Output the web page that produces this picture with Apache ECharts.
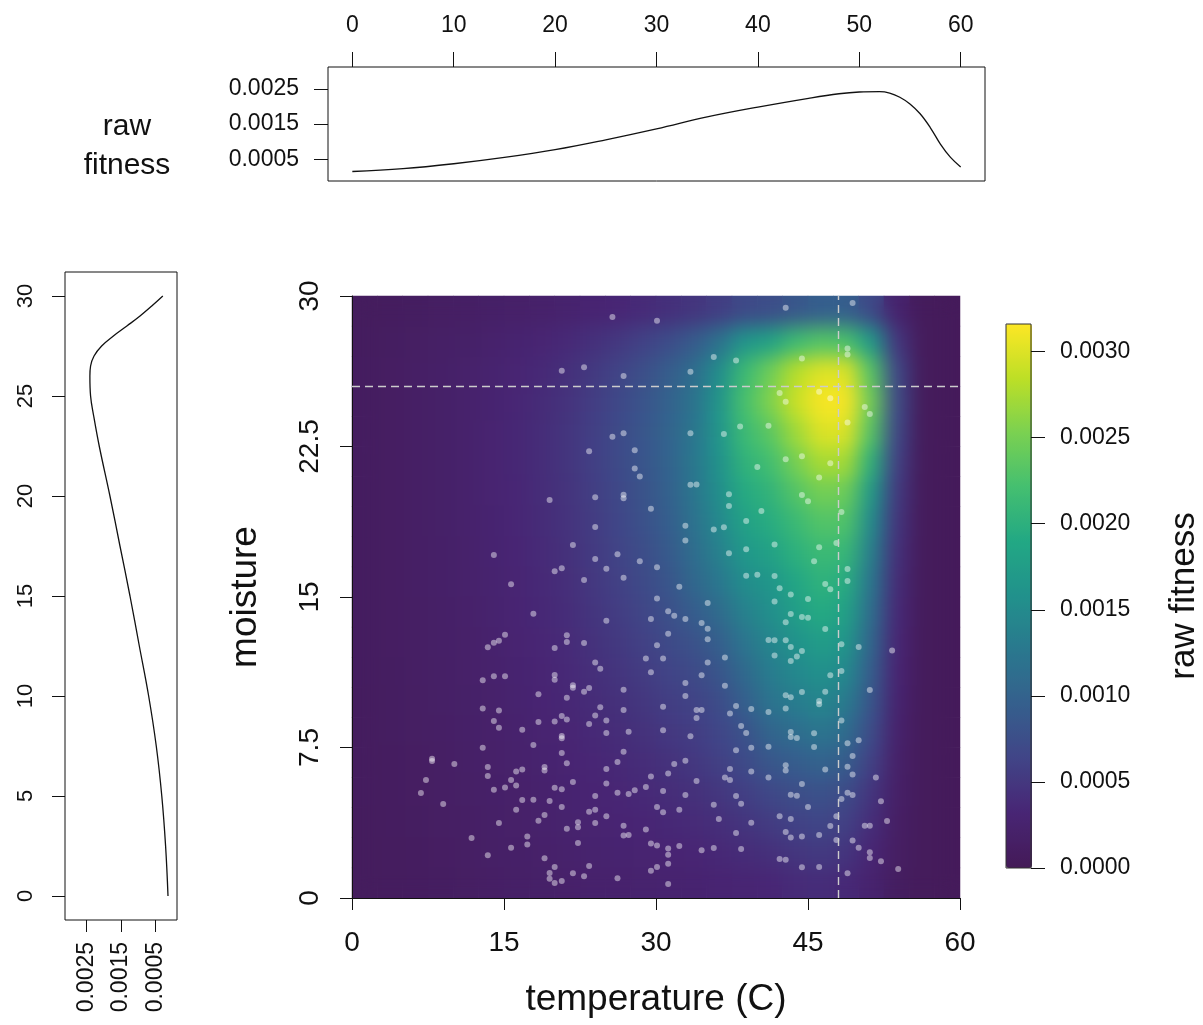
<!DOCTYPE html>
<html>
<head>
<meta charset="utf-8">
<title>raw fitness surface</title>
<script src="https://cdn.jsdelivr.net/npm/echarts@6/dist/echarts.min.js"></script>
<style>
  html, body { margin: 0; padding: 0; background: #fff; }
  #stage { position: relative; width: 1203px; height: 1025px; overflow: hidden; }
  .layer { position: absolute; left: 0; top: 0; width: 1203px; height: 1025px; }
  #smoothWrap { position: absolute; left: 352px; top: 296px; width: 608px; height: 602px; overflow: hidden; }
  #smooth { width: 608px; height: 602px; filter: blur(10px); }
</style>
</head>
<body>
<div id="stage">
  <div id="base" class="layer"></div>
  <div id="smoothWrap"><div id="smooth"></div></div>
  <div id="front" class="layer"></div>
</div>
<script>
// cell centres of the fitness surface
const tempCells = [1.25, 3.75, 6.25, 8.75, 11.25, 13.75, 16.25, 18.75, 21.25, 23.75, 26.25, 28.75,
  31.25, 33.75, 36.25, 38.75, 41.25, 43.75, 46.25, 48.75, 51.25, 53.75, 56.25, 58.75];
const moistCells = [0.75, 2.25, 3.75, 5.25, 6.75, 8.25, 9.75, 11.25, 12.75, 14.25,
  15.75, 17.25, 18.75, 20.25, 21.75, 23.25, 24.75, 26.25, 27.75, 29.25];

// raw fitness x 1e-4, one row per moisture cell (bottom to top), one column per temp cell
const fitnessRows = [
  [0.8,0.9,1.0,1.1,1.3,1.5,1.7,1.9,2.1,2.3,2.4,2.5,2.6,2.7,2.9,3.1,3.3,3.8,4.0,3.6,2.5,1.1,0.5,0.4],
  [0.8,0.9,1.0,1.2,1.4,1.6,1.8,2.1,2.3,2.5,2.7,2.8,3.0,3.2,3.5,3.9,4.3,4.9,5.3,4.8,3.2,1.3,0.5,0.4],
  [0.8,1.0,1.1,1.3,1.5,1.7,2.0,2.3,2.5,2.8,3.0,3.2,3.5,3.8,4.2,4.8,5.5,6.1,6.5,6.0,4.0,1.5,0.5,0.4],
  [0.9,1.0,1.2,1.4,1.6,1.8,2.1,2.4,2.7,3.0,3.3,3.6,4.0,4.4,5.0,5.8,6.8,7.5,8.0,7.3,4.8,1.8,0.5,0.4],
  [0.9,1.0,1.2,1.4,1.7,2.0,2.3,2.6,2.9,3.3,3.6,4.0,4.5,5.1,5.9,7.0,8.5,9.3,10.0,9.2,6.0,2.1,0.5,0.4],
  [0.9,1.1,1.3,1.5,1.8,2.1,2.4,2.8,3.1,3.6,4.0,4.5,5.1,5.6,6.6,8.0,10.2,11.3,12.3,11.3,7.2,2.4,0.5,0.4],
  [0.9,1.1,1.3,1.6,1.9,2.2,2.6,3.0,3.4,3.9,4.4,5.0,5.7,6.2,7.3,9.5,12.0,13.2,14.3,13.0,8.3,2.7,0.5,0.4],
  [1.0,1.1,1.4,1.6,2.0,2.3,2.7,3.1,3.6,4.2,4.8,5.5,6.3,7.0,8.3,10.8,13.2,14.6,15.8,14.8,9.3,3.0,0.5,0.4],
  [1.0,1.2,1.4,1.7,2.0,2.4,2.8,3.3,3.8,4.5,5.2,6.0,7.0,8.0,9.5,12.2,14.3,16.0,17.5,16.5,10.3,3.3,0.5,0.4],
  [1.0,1.2,1.4,1.7,2.1,2.5,3.0,3.5,4.0,4.8,5.6,6.5,7.7,9.3,11.0,13.8,15.5,17.5,19.2,18.0,11.3,3.6,0.5,0.4],
  [1.0,1.2,1.5,1.8,2.2,2.6,3.1,3.6,4.2,5.1,6.0,7.0,8.3,10.5,12.5,15.3,16.5,18.6,20.3,19.5,12.3,3.9,0.5,0.4],
  [1.0,1.2,1.5,1.8,2.2,2.7,3.2,3.8,4.4,5.3,6.3,7.4,8.9,11.3,13.8,16.7,18.0,20.0,21.5,21.0,13.5,4.3,0.5,0.4],
  [1.0,1.2,1.5,1.9,2.3,2.7,3.3,3.9,4.6,5.5,6.6,7.8,9.4,11.9,14.8,18.0,19.5,21.3,23.0,22.8,15.0,4.8,0.5,0.4],
  [1.0,1.2,1.5,1.9,2.3,2.8,3.3,4.0,4.7,5.7,6.8,8.1,9.7,12.3,15.5,19.3,20.5,23.0,25.0,24.5,17.0,5.3,0.5,0.4],
  [1.0,1.2,1.5,1.9,2.3,2.8,3.4,4.0,4.8,5.8,7.0,8.3,10.0,12.5,16.0,20.4,22.0,25.0,27.5,27.3,20.0,6.0,0.5,0.4],
  [1.0,1.2,1.5,1.9,2.3,2.8,3.4,4.0,4.8,5.8,7.0,8.4,10.1,12.4,16.3,21.4,23.5,27.0,30.0,30.0,23.0,6.8,0.5,0.4],
  [1.0,1.2,1.5,1.9,2.3,2.7,3.3,3.9,4.6,5.6,6.8,8.2,9.9,12.0,16.3,22.3,25.5,29.0,31.3,31.3,24.5,7.2,0.5,0.4],
  [1.0,1.2,1.5,1.8,2.2,2.6,3.1,3.6,4.3,5.2,6.3,7.6,9.2,11.3,15.3,21.3,24.5,28.0,30.0,30.0,23.0,6.8,0.5,0.4],
  [0.9,1.1,1.3,1.6,1.9,2.3,2.7,3.1,3.6,4.3,5.1,6.1,7.3,9.0,11.8,16.3,18.0,21.5,23.0,22.5,17.0,5.0,0.5,0.4],
  [0.8,0.9,1.1,1.3,1.5,1.7,2.0,2.2,2.5,2.9,3.3,3.8,4.3,4.9,5.7,7.0,7.5,8.5,9.5,9.5,7.0,2.5,0.5,0.4]
];

// observed individuals [temperature, moisture]
const samples = [
  [17.9,14.17],[15.1,13.12],[14.5,12.82],[14.0,12.72],[13.4,12.49],[20.0,12.46],[12.9,10.85],[14.0,11.05],[15.1,11.05],[20.0,11.11],
  [20.0,10.88],[18.4,10.15],[12.9,9.44],[14.5,9.35],[14.0,8.82],[14.5,8.49],[16.8,8.39],[18.4,8.77],[20.0,8.80],[17.9,7.62],
  [12.9,7.49],[7.9,6.94],[7.9,6.83],[10.1,6.68],[7.3,5.88],[6.8,5.23],[9.0,4.68],[13.4,6.53],[13.4,6.08],[14.0,5.40],
  [15.1,5.51],[15.7,5.88],[16.2,6.30],[16.8,6.40],[16.2,5.61],[19.0,6.53],[19.0,6.35],[20.0,5.50],[16.8,4.88],[17.9,4.90],
  [19.5,4.83],[16.2,4.40],[19.0,4.14],[18.4,3.85],[14.5,3.74],[11.8,2.99],[17.3,3.07],[17.3,2.67],[15.7,2.51],[13.4,2.13],
  [19.0,1.98],[20.0,1.54],[19.5,1.25],[19.5,0.96],[20.0,0.75],
  [30.1,14.92],[35.1,14.70],[31.2,14.29],[31.8,14.07],[32.9,13.90],[29.5,13.90],[25.1,13.82],[34.5,13.70],[35.1,13.42],[31.2,13.17],
  [35.1,12.89],[21.2,13.09],[21.2,12.76],[22.9,12.71],[30.1,12.59],[29.0,11.93],[30.7,11.93],[36.8,11.98],[35.1,11.74],[24.0,11.73],
  [24.5,11.43],[29.5,11.25],[34.5,11.10],[32.9,10.71],[36.8,10.58],[21.8,10.60],[21.8,10.48],[23.4,10.47],[22.9,10.28],[26.8,10.38],
  [32.9,10.07],[21.2,9.98],[30.7,9.53],[24.5,9.50],[37.9,9.57],[39.4,9.42],[34.0,9.37],[34.5,9.37],[26.8,9.37],[37.3,9.20],
  [24.0,9.10],[20.7,9.07],[21.2,8.89],[25.1,8.85],[34.0,8.97],[23.4,8.67],[38.4,8.57],[38.9,8.22],[25.1,8.22],[27.3,8.29],
  [30.7,8.36],[33.4,8.06],[20.7,8.07],[20.7,7.96],[39.4,7.49],[37.9,7.36],[26.8,7.29],[20.7,7.23],[26.2,6.78],[21.2,6.71],
  [32.9,6.84],[31.8,6.68],[25.1,6.43],[37.3,6.43],[39.4,6.31],[31.2,6.21],[29.5,6.06],[36.8,6.01],[37.3,5.88],[34.0,5.83],
  [21.8,5.78],[25.1,5.70],[29.0,5.53],[27.9,5.37],[27.3,5.18],[26.2,5.25],[30.7,5.33],[32.9,5.13],[37.9,5.08],[24.0,5.08],
  [20.7,5.42],[35.7,4.65],[38.4,4.70],[30.1,4.53],[20.7,4.53],[32.3,4.40],[30.7,4.27],[23.4,4.30],[24.0,4.40],[25.1,4.07],
  [36.2,3.94],[22.3,3.77],[22.3,3.52],[21.2,3.45],[24.0,3.74],[39.4,3.75],[26.8,3.60],[29.0,3.41],[37.9,3.24],[26.8,3.11],
  [27.3,3.14],[22.3,2.74],[29.5,2.71],[30.1,2.62],[31.2,2.47],[31.2,2.16],[32.3,2.59],[34.5,2.38],[35.7,2.49],[38.4,2.44],
  [23.4,1.59],[21.8,1.23],[22.9,1.08],[20.7,0.85],[26.2,0.98],[29.5,1.36],[30.1,1.54],[31.2,1.71],[31.2,0.70],
  [41.7,14.77],[45.0,14.90],[43.3,14.15],[44.4,14.00],[45.0,13.97],[42.8,13.74],[46.7,13.41],[41.1,12.86],[41.7,12.84],[42.8,12.84],
  [48.3,12.64],[50.0,12.51],[53.3,12.34],[43.3,12.51],[44.4,12.31],[43.9,12.04],[41.7,12.08],[43.3,11.81],[48.3,11.31],[47.2,11.10],
  [51.1,10.37],[42.8,10.10],[43.3,10.00],[44.4,10.27],[46.7,10.28],[46.1,9.82],[46.1,9.65],[41.1,9.27],[42.8,9.44],[48.3,8.85],
  [43.3,8.27],[43.3,8.02],[43.9,7.97],[45.6,8.21],[48.9,7.71],[50.0,7.86],[41.1,7.54],[45.6,7.52],[49.4,7.08],[42.8,6.61],
  [42.8,6.36],[46.7,6.40],[48.9,6.54],[49.4,6.15],[51.7,6.01],[41.1,6.00],[44.4,5.68],[43.3,5.15],[43.9,5.10],[48.9,5.25],
  [49.4,5.13],[48.3,4.93],[52.2,4.82],[45.0,4.53],[42.2,4.07],[43.3,3.94],[47.8,4.07],[47.2,3.59],[50.6,3.60],[51.1,3.60],
  [52.8,3.84],[42.8,3.29],[43.3,3.01],[44.4,3.07],[46.1,3.14],[47.8,2.89],[49.4,2.87],[50.0,2.51],[51.1,2.28],[51.1,1.99],
  [52.2,1.83],[42.2,1.94],[42.8,1.91],[44.4,1.53],[46.1,1.54],[48.9,1.23],[53.9,1.44],
  [19.5,19.83],[14.0,17.09],[20.0,16.28],[15.7,15.63],
  [25.7,28.95],[30.1,28.77],[35.7,26.96],[37.9,26.78],[20.7,26.28],[22.9,26.45],[26.8,26.01],[33.4,26.23],[25.7,22.99],[26.8,23.16],
  [33.4,23.16],[36.7,23.12],[38.3,23.50],[23.4,22.26],[27.9,22.31],[27.9,21.40],[28.4,21.01],[33.4,20.60],[34.0,20.61],[40.0,21.48],
  [37.2,20.12],[37.2,19.53],[24.0,19.97],[26.8,20.10],[26.8,19.92],[29.5,19.40],[40.4,19.29],[24.0,18.49],[32.9,18.55],[32.9,17.82],
  [35.7,18.37],[36.7,18.47],[38.9,18.79],[21.8,17.59],[26.2,17.13],[24.0,16.89],[28.4,16.78],[37.2,17.18],[38.9,17.38],[20.7,16.43],
  [25.1,16.41],[30.1,16.48],[22.9,15.85],[26.8,15.96],[38.9,16.06],[40.0,16.11],[32.3,15.51],
  [42.8,29.42],[49.4,29.65],[48.9,27.38],[48.9,27.09],[44.4,26.88],[42.2,25.17],[42.8,24.73],[46.1,25.23],[47.2,24.90],[50.6,24.47],
  [51.1,24.12],[48.9,23.70],[41.1,23.54],[42.8,21.86],[44.4,22.01],[47.2,21.66],[46.1,20.96],[44.4,20.08],[45.0,19.77],[48.3,19.24],
  [41.7,17.62],[46.1,17.48],[47.8,17.69],[45.6,16.78],[48.9,16.40],[48.9,15.80],[41.7,16.05],[42.2,15.43],[43.3,15.13],[46.7,15.65],
  [47.2,15.38]
];

// optimum shown by the dashed guides
const optimumTemp = 48;
const optimumMoist = 25.5;

// marginal raw fitness curves
const topTemp = [0, 5, 10, 15, 20, 25, 30, 35, 40, 45, 48, 50, 52, 53, 54, 55, 56, 57, 58, 59, 60];
const topFitness = [0.00015, 0.00023, 0.00037, 0.00055, 0.00077, 0.00105, 0.00136, 0.0017, 0.00198, 0.00223,
  0.00236, 0.00241, 0.00242, 0.00238, 0.00226, 0.00207, 0.00179, 0.0014, 0.00093, 0.00055, 0.00028];
const leftMoist = [0, 2.5, 5, 7.5, 10, 12.5, 15, 17.5, 20, 22.5, 24, 25, 26, 26.5, 27, 27.5, 28, 28.5, 29, 29.5, 30];
const leftFitness = [0.00014, 0.00021, 0.00032, 0.00048, 0.0007, 0.00097, 0.00124, 0.00153, 0.00182, 0.00213,
  0.00229, 0.00238, 0.0024, 0.00238, 0.00228, 0.00206, 0.00172, 0.00133, 0.00095, 0.00061, 0.00029];

// tick labels
const topTempTicks = [0, 10, 20, 30, 40, 50, 60];
const marginFitTicks = [0.0005, 0.0015, 0.0025];
const leftMoistTicks = [0, 5, 10, 15, 20, 25, 30];
const barTicks = [0, 0.0005, 0.001, 0.0015, 0.002, 0.0025, 0.003];
const barMax = 0.00316;

// viridis, with the darkest stop matched to the picture
const viridis = ['#441a57', '#482574', '#414487', '#355f8d', '#2a788e', '#21918c',
  '#22a884', '#44bf70', '#7ad151', '#bddf26', '#fde725'];
const ink = '#111';
const font = '"Liberation Sans", Arial, Helvetica, sans-serif';

const cells = [];
fitnessRows.forEach((row, j) => row.forEach((v, i) => cells.push([i, j, v])));

function heatmapOption(grid, showBar) {
  return {
    animation: false,
    grid: grid,
    xAxis: { type: 'category', data: tempCells, show: false },
    yAxis: { type: 'category', data: moistCells, show: false },
    visualMap: {
      type: 'continuous', show: showBar, min: 0, max: barMax * 1e4, calculable: false,
      orient: 'vertical', left: 1006, top: 324, itemWidth: 26, itemHeight: 544, padding: 0,
      hoverLink: false, seriesIndex: 0, inRange: { color: viridis }
    },
    series: [{ type: 'heatmap', data: cells, silent: true, progressive: 0, itemStyle: { borderWidth: 0 } }]
  };
}

echarts.init(document.getElementById('base'))
  .setOption(heatmapOption({ left: 352, top: 296, width: 608, height: 602 }, true));
echarts.init(document.getElementById('smooth'))
  .setOption(heatmapOption({ left: 0, top: 0, right: 0, bottom: 0 }, false));

const axisLine = { show: true, onZero: false, lineStyle: { color: ink, width: 1 } };
const noLine = { show: false, onZero: false };
const tick = (len) => ({ show: true, length: len, lineStyle: { color: ink, width: 1 } });
const fit4 = (v) => v.toFixed(4);

const front = echarts.init(document.getElementById('front'));
front.setOption({
  animation: false,
  textStyle: { fontFamily: font, color: ink },
  grid: [
    { left: 352, top: 296, width: 608, height: 602 },
    { left: 328, top: 67, width: 657, height: 114, show: true, borderColor: ink, borderWidth: 1 },
    { left: 65, top: 272, width: 112, height: 648, show: true, borderColor: ink, borderWidth: 1 },
    { left: 1006, top: 324, width: 26, height: 544, show: true, borderColor: '#333', borderWidth: 1 }
  ],
  xAxis: [
    {
      gridIndex: 0, type: 'value', min: 0, max: 60, interval: 15,
      axisLine: axisLine, axisTick: tick(12), splitLine: { show: false },
      axisLabel: { fontSize: 28, margin: 31, color: ink, fontFamily: font },
      name: 'temperature (C)', nameLocation: 'middle', nameGap: 83,
      nameTextStyle: { fontSize: 37, color: ink, fontFamily: font }
    },
    {
      gridIndex: 1, type: 'value', position: 'top', min: -2.4, max: 62.4,
      axisLine: noLine, splitLine: { show: false },
      axisTick: Object.assign(tick(15), { customValues: topTempTicks }),
      axisLabel: { customValues: topTempTicks, fontSize: 23, margin: 30, color: ink, fontFamily: font }
    },
    {
      gridIndex: 2, type: 'value', inverse: true, min: -0.00012, max: 0.00312,
      axisLine: noLine, splitLine: { show: false },
      axisTick: Object.assign(tick(12), { customValues: marginFitTicks }),
      axisLabel: { customValues: marginFitTicks, rotate: 90, fontSize: 23, margin: 22, color: ink, fontFamily: font, formatter: fit4 }
    },
    { gridIndex: 3, type: 'value', min: 0, max: 1, show: false }
  ],
  yAxis: [
    {
      gridIndex: 0, type: 'value', min: 0, max: 30, interval: 7.5,
      axisLine: axisLine, axisTick: tick(12), splitLine: { show: false },
      axisLabel: { rotate: 90, fontSize: 28, margin: 28, color: ink, fontFamily: font },
      name: 'moisture', nameLocation: 'middle', nameGap: 88,
      nameTextStyle: { fontSize: 37, color: ink, fontFamily: font }
    },
    {
      gridIndex: 1, type: 'value', min: -0.00012, max: 0.00312,
      axisLine: noLine, splitLine: { show: false },
      axisTick: Object.assign(tick(14), { customValues: marginFitTicks }),
      axisLabel: { customValues: marginFitTicks, fontSize: 23, margin: 29, color: ink, fontFamily: font, formatter: fit4 }
    },
    {
      gridIndex: 2, type: 'value', min: -1.2, max: 31.2,
      axisLine: noLine, splitLine: { show: false },
      axisTick: Object.assign(tick(13), { customValues: leftMoistTicks }),
      axisLabel: { customValues: leftMoistTicks, rotate: 90, fontSize: 22, margin: 28, color: ink, fontFamily: font }
    },
    {
      gridIndex: 3, type: 'value', position: 'right', min: 0, max: barMax,
      axisLine: noLine, splitLine: { show: false },
      axisTick: Object.assign(tick(14), { customValues: barTicks }),
      axisLabel: { customValues: barTicks, fontSize: 23, margin: 29, color: ink, fontFamily: font, formatter: fit4 },
      name: 'raw fitness', nameLocation: 'middle', nameRotate: 90, nameGap: 136,
      nameTextStyle: { fontSize: 35, color: ink, fontFamily: font }
    }
  ],
  graphic: [{
    type: 'text', x: 127, y: 146, silent: true,
    style: { text: 'raw\nfitness', fontSize: 30, fontFamily: font, fill: ink, align: 'center', verticalAlign: 'middle', lineHeight: 39 }
  }],
  series: [
    {
      type: 'scatter', xAxisIndex: 0, yAxisIndex: 0, data: samples, symbolSize: 6, silent: true,
      itemStyle: { color: 'rgba(255,255,255,0.55)' },
      markLine: {
        silent: true, symbol: 'none', label: { show: false },
        lineStyle: { color: '#cccccc', type: [8, 5], width: 1.4 },
        data: [{ xAxis: optimumTemp }, { yAxis: optimumMoist }]
      }
    },
    {
      type: 'line', xAxisIndex: 1, yAxisIndex: 1, smooth: 0.4, showSymbol: false, silent: true,
      data: topTemp.map((t, i) => [t, topFitness[i]]),
      lineStyle: { color: ink, width: 1.3 }
    },
    {
      type: 'line', xAxisIndex: 2, yAxisIndex: 2, smooth: 0.4, showSymbol: false, silent: true,
      data: leftMoist.map((m, i) => [leftFitness[i], m]),
      lineStyle: { color: ink, width: 1.3 }
    }
  ]
});
</script>
</body>
</html>
